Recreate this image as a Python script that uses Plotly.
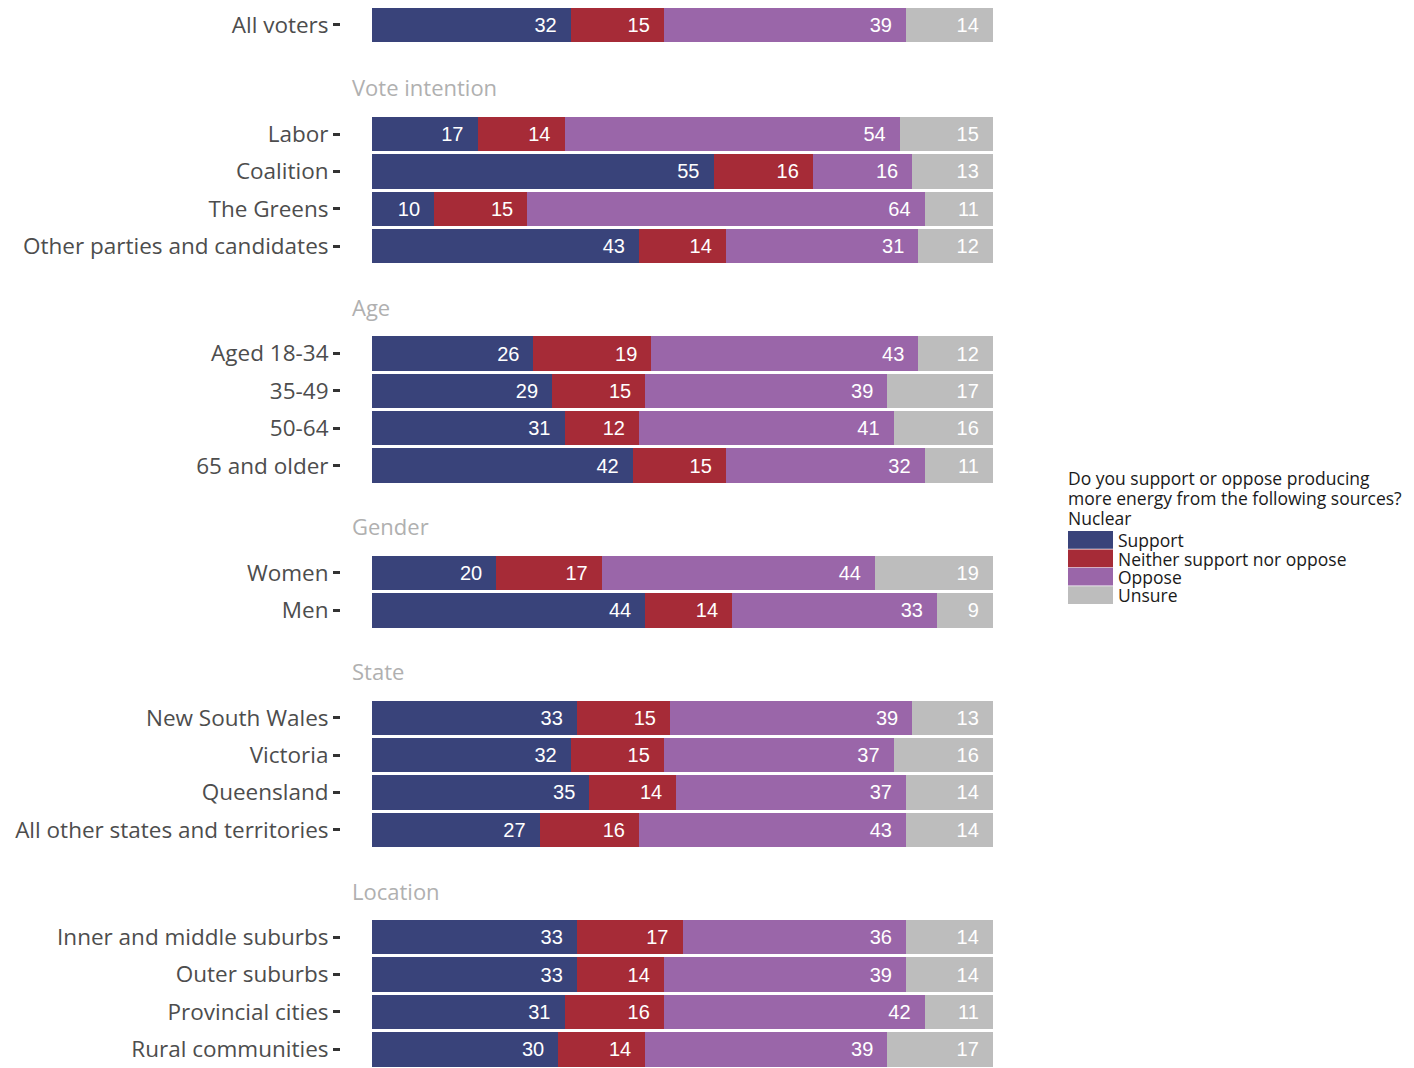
import plotly.graph_objects as go
from plotly.subplots import make_subplots

# ---- data ----
facet_titles = ["", "Vote intention", "Age", "Gender", "State", "Location"]
facet_groups = [
    ["All voters"],
    ["Labor", "Coalition", "The Greens", "Other parties and candidates"],
    ["Aged 18-34", "35-49", "50-64", "65 and older"],
    ["Women", "Men"],
    ["New South Wales", "Victoria", "Queensland", "All other states and territories"],
    ["Inner and middle suburbs", "Outer suburbs", "Provincial cities", "Rural communities"],
]
responses = ["Support", "Neither support nor oppose", "Oppose", "Unsure"]
support = [[32], [17, 55, 10, 43], [26, 29, 31, 42], [20, 44], [33, 32, 35, 27], [33, 33, 31, 30]]
neither = [[15], [14, 16, 15, 14], [19, 15, 12, 15], [17, 14], [15, 15, 14, 16], [17, 14, 16, 14]]
oppose = [[39], [54, 16, 64, 31], [43, 39, 41, 32], [44, 33], [39, 37, 37, 43], [36, 39, 42, 39]]
unsure = [[14], [15, 13, 11, 12], [12, 17, 16, 11], [19, 9], [13, 16, 14, 14], [14, 14, 11, 17]]
series = [support, neither, oppose, unsure]
legend_title = ["Do you support or oppose producing", "more energy from the following sources?", "Nuclear"]

# ---- style ----
colors = ["#39437a", "#a62b37", "#9a66a9", "#bdbdbd"]
OFF = 8  # page body margin
W, H = 1406, 1060
ML, MR, MT, MB = 333, 390, 0, 0
GAP = 70
plot_h = H - MT - MB
plot_w = W - ML - MR
label_font = "'Open Sans', 'Noto Sans', sans-serif"

counts = [len(g) for g in facet_groups]
fig = make_subplots(rows=len(counts), cols=1, shared_xaxes=True,
                    row_heights=counts, vertical_spacing=GAP / plot_h)

for r, cats in enumerate(facet_groups):
    for k, name in enumerate(responses):
        vals = series[k][r]
        fig.add_trace(go.Bar(
            y=cats, x=vals, orientation="h", name=name,
            marker=dict(color=colors[k], line=dict(width=0)),
            text=[f"{v}\u00a0\u00a0" for v in vals],
            textposition="inside", insidetextanchor="end",
            textfont=dict(color="white", size=20, family="'Liberation Sans', Arial, sans-serif"),
            constraintext="none", showlegend=False, hoverinfo="x+y+name",
        ), row=r + 1, col=1)
    n = len(cats)
    shift = 0.055 if r == 0 else 0.0
    fig.update_yaxes(categoryorder="array", categoryarray=cats,
                     range=[n - 0.5 + shift, -0.5 + shift],
                     ticks="outside", ticklen=7, tickwidth=2.5, tickcolor="#333333",
                     showline=False, showgrid=False, zeroline=False,
                     tickfont=dict(size=22.5, color="#4d4d4d", family=label_font),
                     row=r + 1, col=1)
    fig.update_xaxes(range=[-5, 105], showticklabels=False, showgrid=False, zeroline=False,
                     showline=False, ticks="", row=r + 1, col=1)

fig.update_layout(barmode="stack", bargap=0.08, width=W, height=H,
                  margin=dict(l=ML, r=MR, t=MT, b=MB),
                  plot_bgcolor="white", paper_bgcolor="white", showlegend=False)

# facet titles
for r, title in enumerate(facet_titles):
    if not title:
        continue
    yname = "yaxis" if r == 0 else f"yaxis{r + 1}"
    top = fig.layout[yname].domain[1]
    fig.add_annotation(text=title, xref="paper", yref="paper", x=9 / plot_w, y=top,
                       xanchor="left", yanchor="middle", yshift=28, showarrow=False,
                       font=dict(size=22, color="#b0b0b0", family=label_font))

# manual legend (positions given in page pixels)
def px_x(p):
    return (p - OFF - ML) / plot_w

def px_y(p):
    return (H - MB - (p - OFF)) / plot_h

for i, line in enumerate(legend_title):
    fig.add_annotation(text=line, xref="paper", yref="paper", x=px_x(1066), y=px_y(478 + 20 * i),
                       xanchor="left", yanchor="middle", showarrow=False,
                       font=dict(size=17.5, color="#1a1a1a", family=label_font))
box_top = 531
box_h = 18.4
for k, name in enumerate(responses):
    y0 = box_top + k * box_h
    fig.add_shape(type="rect", xref="paper", yref="paper",
                  x0=px_x(1068), x1=px_x(1113), y0=px_y(y0 + box_h - 0.6), y1=px_y(y0),
                  fillcolor=colors[k], line=dict(width=0))
    fig.add_annotation(text=name, xref="paper", yref="paper", x=px_x(1116), y=px_y(y0 + box_h / 2),
                       xanchor="left", yanchor="middle", showarrow=False,
                       font=dict(size=17.5, color="#1a1a1a", family=label_font))

fig.write_html("out.html")
